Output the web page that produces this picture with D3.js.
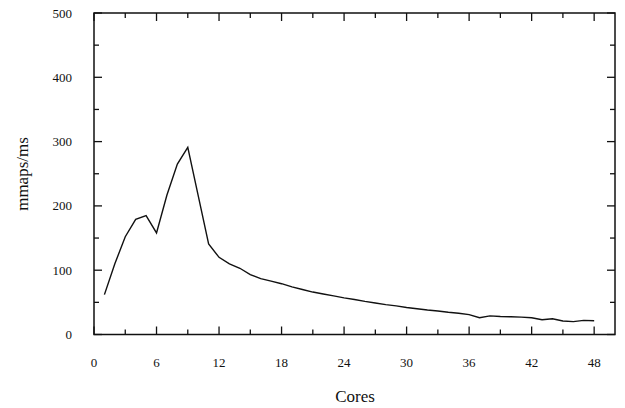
<!DOCTYPE html>
<html>
<head>
<meta charset="utf-8">
<script src="https://cdn.jsdelivr.net/npm/d3@7"></script>
<style>
  html, body { margin: 0; padding: 0; background: #fff; }
  svg { display: block; }
  text { font-family: "Liberation Serif", "Times New Roman", serif; fill: #111; }
</style>
</head>
<body>
<svg id="chart" width="625" height="408"></svg>
<script>
// Throughput (mmaps per ms) against number of cores
const cores = [1, 2, 3, 4, 5, 6, 7, 8, 9, 10, 11, 12, 13, 14, 15, 16, 17, 18, 19, 20,
  21, 22, 23, 24, 25, 26, 27, 28, 29, 30, 31, 32, 33, 34, 35, 36, 37, 38, 39, 40,
  41, 42, 43, 44, 45, 46, 47, 48];
const mmapsPerMs = [62, 110, 152, 179, 185, 158, 217, 265, 291, 216, 141, 120, 110, 103, 93, 87, 83, 79, 74, 70,
  66, 63, 60, 57, 54.5, 51.5, 49, 46.5, 44.5, 42, 40, 38, 36.5, 34.5, 33, 31, 26, 29, 28, 27.5,
  27, 26, 23, 24.5, 21, 20, 22, 21.5];
const xTickLabels = [0, 6, 12, 18, 24, 30, 36, 42, 48];
const yTickLabels = [0, 100, 200, 300, 400, 500];

const svg = d3.select("#chart");
const m = { left: 94, right: 615, top: 13, bottom: 334.5 };

const x = d3.scaleLinear().domain([0, 50]).range([m.left, m.right]);
const y = d3.scaleLinear().domain([0, 500]).range([m.bottom, m.top]);

const xMinor = d3.range(3, 50, 6);
const yMinor = d3.range(50, 500, 100);
const major = 8, minor = 5;

const ticks = svg.append("g").attr("stroke", "#111").attr("stroke-width", 1.3);

// x ticks on bottom and top edges
[[xTickLabels, major], [xMinor, minor]].forEach(([vals, len]) => {
  vals.forEach(v => {
    ticks.append("line").attr("x1", x(v)).attr("x2", x(v))
      .attr("y1", m.bottom).attr("y2", m.bottom - len);
    ticks.append("line").attr("x1", x(v)).attr("x2", x(v))
      .attr("y1", m.top).attr("y2", m.top + len);
  });
});
// y ticks on left and right edges
[[yTickLabels, major], [yMinor, minor]].forEach(([vals, len]) => {
  vals.forEach(v => {
    ticks.append("line").attr("y1", y(v)).attr("y2", y(v))
      .attr("x1", m.left).attr("x2", m.left + len);
    ticks.append("line").attr("y1", y(v)).attr("y2", y(v))
      .attr("x1", m.right).attr("x2", m.right - len);
  });
});

// frame
svg.append("rect")
  .attr("x", m.left).attr("y", m.top)
  .attr("width", m.right - m.left).attr("height", m.bottom - m.top)
  .attr("fill", "none").attr("stroke", "#111").attr("stroke-width", 1.5);

// tick labels
svg.append("g").selectAll("text").data(xTickLabels).join("text")
  .attr("x", d => x(d)).attr("y", 367)
  .attr("text-anchor", "middle").attr("font-size", 13)
  .text(d => d);

svg.append("g").selectAll("text").data(yTickLabels).join("text")
  .attr("x", 72).attr("y", d => y(d) + 4.5)
  .attr("text-anchor", "end").attr("font-size", 13)
  .text(d => d);

// axis titles
svg.append("text").attr("x", 355).attr("y", 402)
  .attr("text-anchor", "middle").attr("font-size", 17).text("Cores");
svg.append("text")
  .attr("transform", "translate(28,174) rotate(-90)")
  .attr("text-anchor", "middle").attr("font-size", 17).text("mmaps/ms");

// data line
const line = d3.line().x((d, i) => x(cores[i])).y(d => y(d));
svg.append("path").datum(mmapsPerMs)
  .attr("d", line)
  .attr("fill", "none").attr("stroke", "#111").attr("stroke-width", 1.4)
  .attr("stroke-linejoin", "miter");
</script>
</body>
</html>
